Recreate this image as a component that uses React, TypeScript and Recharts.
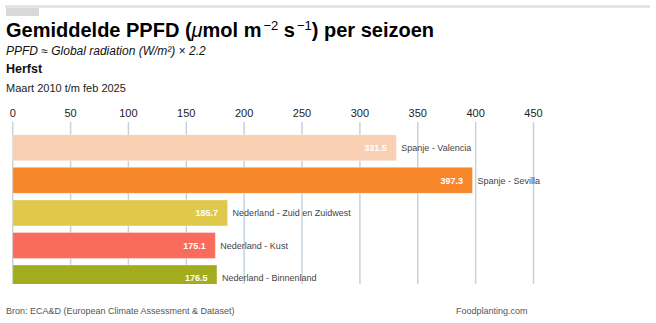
import React from "react";
import { Bar, BarChart, CartesianGrid, Cell, LabelList, XAxis, YAxis } from "recharts";

const regions = [
  "Spanje - Valencia",
  "Spanje - Sevilla",
  "Nederland - Zuid en Zuidwest",
  "Nederland - Kust",
  "Nederland - Binnenland",
];
const ppfd = [331.5, 397.3, 185.7, 175.1, 176.5];
const barColors = ["#f9d0b3", "#f8862b", "#e0c84c", "#f96b5a", "#a3ab1f"];
const xTicks = [0, 50, 100, 150, 200, 250, 300, 350, 400, 450];

const data = regions.map((region, i) => ({ region, value: ppfd[i] }));

const FONT = '"Liberation Sans", Arial, Helvetica, sans-serif';

const sup: React.CSSProperties = {
  fontSize: 13,
  fontWeight: 400,
  position: "relative",
  top: -7,
  lineHeight: 0,
  marginLeft: 2,
};

export default function App() {
  return (
    <div
      style={{
        position: "absolute",
        left: 0,
        top: 0,
        width: 656,
        height: 323,
        background: "#fff",
        fontFamily: FONT,
        overflow: "hidden",
      }}
    >
      {/* top decoration */}
      <div style={{ position: "absolute", left: 5, top: 5, width: 645, height: 2.5, background: "#e3e3e3" }} />
      <div style={{ position: "absolute", left: 6, top: 7.5, width: 33, height: 8, background: "#d9d9d9" }} />

      <div style={{ position: "absolute", left: 6, top: 19.6, fontSize: 20, fontWeight: 700, lineHeight: 1, color: "#000", whiteSpace: "nowrap" }}>
        Gemiddelde PPFD (<span style={{ fontStyle: "italic", fontWeight: 400 }}>μ</span>mol m
        <span style={sup}>−2</span> s<span style={sup}>−1</span>) per seizoen
      </div>
      <div style={{ position: "absolute", left: 6, top: 44.8, fontSize: 12, fontStyle: "italic", lineHeight: 1, color: "#111" }}>
        PPFD ≈ Global radiation (W/m²) × 2.2
      </div>
      <div style={{ position: "absolute", left: 6, top: 62.7, fontSize: 12.5, fontWeight: 700, lineHeight: 1, color: "#111" }}>
        Herfst
      </div>
      <div style={{ position: "absolute", left: 6, top: 83.2, fontSize: 11, lineHeight: 1, color: "#222" }}>
        Maart 2010 t/m feb 2025
      </div>

      <div style={{ position: "absolute", left: 0, top: 0, width: 656, height: 283.5, overflow: "hidden" }}>
        <BarChart
          layout="vertical"
          width={656}
          height={300}
          data={data}
          margin={{ top: 92, right: 122.5, bottom: 5.5, left: 12.7 }}
        >
          <CartesianGrid horizontal={false} stroke="#c5d3de" strokeWidth={1.5} />
          <XAxis
            type="number"
            orientation="top"
            domain={[0, 450]}
            ticks={xTicks}
            height={30}
            axisLine={false}
            tickLine={false}
            tickSize={0}
            tickMargin={5}
            tick={{ fill: "#222", fontSize: 11 }}
            interval={0}
          />
          <YAxis
            type="category"
            dataKey="region"
            width={0}
            tick={false}
            tickLine={false}
            axisLine={{ stroke: "#222", strokeWidth: 2 }}
            padding={{ top: 9.8, bottom: 0 }}
          />
          <Bar dataKey="value" barSize={26} isAnimationActive={false} stroke="rgba(255,255,255,0.35)" strokeWidth={1}>
            {data.map((d, i) => (
              <Cell key={d.region} fill={barColors[i]} />
            ))}
            <LabelList
              dataKey="value"
              position="insideRight"
              offset={9.5}
              formatter={(v: number) => Number(v).toFixed(1)}
              style={{ fill: "#fff", fontSize: 9, fontWeight: 700 }}
            />
            <LabelList
              dataKey="region"
              position="right"
              offset={5}
              style={{ fill: "#444", fontSize: 9 }}
            />
          </Bar>
        </BarChart>
      </div>

      <div style={{ position: "absolute", left: 6, top: 307.4, fontSize: 9, lineHeight: 1, color: "#555" }}>
        Bron: ECA&amp;D (European Climate Assessment &amp; Dataset)
      </div>
      <div style={{ position: "absolute", left: 456, top: 307.4, fontSize: 9, lineHeight: 1, color: "#555" }}>
        Foodplanting.com
      </div>
    </div>
  );
}
